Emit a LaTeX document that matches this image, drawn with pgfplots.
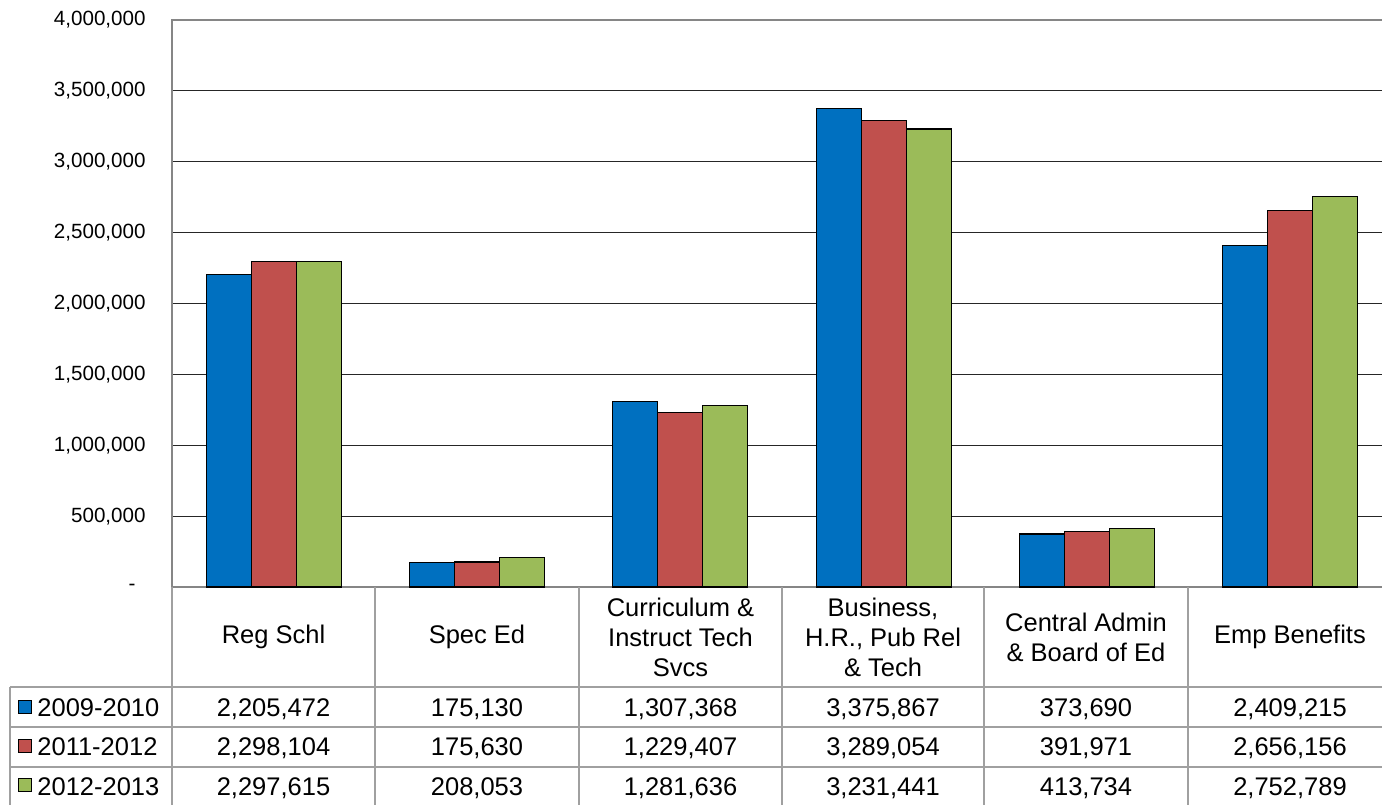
\documentclass[border=0pt]{standalone}
\usepackage{pgfplots}
\pgfplotsset{compat=1.18}
\usepackage{fontspec}
\setmainfont{Liberation Sans}
\definecolor{bBlue}{RGB}{0,112,192}
\definecolor{bRed}{RGB}{192,80,77}
\definecolor{bGreen}{RGB}{155,187,89}
\definecolor{lineGray}{RGB}{134,134,134}
\definecolor{tabGray}{RGB}{160,160,160}

\begin{document}
\begin{tikzpicture}
\begin{axis}[
  at={(0,0)}, anchor=south west, scale only axis,
  width=610pt, height=283.5pt,
  xmin=-0.5, xmax=5.5, ymin=0, ymax=4000000,
  xtick=\empty,
  ytick={0,500000,1000000,1500000,2000000,2500000,3000000,3500000,4000000},
  yticklabels={{-\rule{5pt}{0pt}},{500,000},{1,000,000},{1,500,000},{2,000,000},{2,500,000},{3,000,000},{3,500,000},{4,000,000}},
  scaled y ticks=false,
  major tick length=0pt,
  yticklabel style={font=\fontsize{10.3}{12}\selectfont, inner sep=0pt, xshift=-13pt},
  ymajorgrids, grid style={black!85, line width=0.55pt},
  axis line style={lineGray, line width=0.9pt},
  ybar=0pt, bar width=22.5pt,
]
% 2009-2010
\addplot[fill=bBlue, draw=black, line width=0.65pt] coordinates {
  (0,2205472) (1,175130) (2,1307368) (3,3375867) (4,373690) (5,2409215)};
% 2011-2012
\addplot[fill=bRed, draw=black, line width=0.65pt] coordinates {
  (0,2298104) (1,175630) (2,1229407) (3,3289054) (4,391971) (5,2656156)};
% 2012-2013
\addplot[fill=bGreen, draw=black, line width=0.65pt] coordinates {
  (0,2297615) (1,208053) (2,1281636) (3,3231441) (4,413734) (5,2752789)};
\end{axis}

% data table below the plot, in pixel units
\begin{scope}[x=0.5pt, y=-0.5pt, shift={(-86pt,293.5pt)}]
  \begin{scope}[draw=tabGray, line width=0.8pt]
    \foreach \xx in {172,375,579,782,984,1188,1392} \draw (\xx,587) -- (\xx,820);
    \draw (10,687) -- (10,820);
    \foreach \yy in {687,727,767,807} \draw (10,\yy) -- (1392,\yy);
  \end{scope}
  \tikzset{hd/.style={align=center, font=\fontsize{12.75}{15}\selectfont, inner sep=0pt},
           cell/.style={anchor=base, font=\fontsize{12.75}{15}\selectfont, inner sep=0pt}}
  \node[hd] at (273.5,637) {Reg Schl};
  \node[hd] at (477,637) {Spec Ed};
  \node[hd] at (680.5,637) {Curriculum \&\\Instruct Tech\\Svcs};
  \node[hd] at (883,637) {Business,\\H.R., Pub Rel\\\& Tech};
  \node[hd] at (1086,637) {Central Admin\\\& Board of Ed};
  \node[hd] at (1290,637) {Emp Benefits};
  % legend keys
  \filldraw[fill=bBlue, draw=black, line width=0.5pt] (18.5,700) rectangle (31.5,713);
  \filldraw[fill=bRed, draw=black, line width=0.5pt] (18.5,739.5) rectangle (31.5,752.5);
  \filldraw[fill=bGreen, draw=black, line width=0.5pt] (18.5,778.5) rectangle (31.5,791.5);
  \node[cell, anchor=base west] at (37,716) {2009-2010};
  \node[cell, anchor=base west] at (37,755) {2011-2012};
  \node[cell, anchor=base west] at (37,795) {2012-2013};
  % row 1
  \node[cell] at (273.5,716) {2,205,472};
  \node[cell] at (477,716) {175,130};
  \node[cell] at (680.5,716) {1,307,368};
  \node[cell] at (883,716) {3,375,867};
  \node[cell] at (1086,716) {373,690};
  \node[cell] at (1290,716) {2,409,215};
  % row 2
  \node[cell] at (273.5,755) {2,298,104};
  \node[cell] at (477,755) {175,630};
  \node[cell] at (680.5,755) {1,229,407};
  \node[cell] at (883,755) {3,289,054};
  \node[cell] at (1086,755) {391,971};
  \node[cell] at (1290,755) {2,656,156};
  % row 3
  \node[cell] at (273.5,795) {2,297,615};
  \node[cell] at (477,795) {208,053};
  \node[cell] at (680.5,795) {1,281,636};
  \node[cell] at (883,795) {3,231,441};
  \node[cell] at (1086,795) {413,734};
  \node[cell] at (1290,795) {2,752,789};
  \pgfresetboundingbox
  \path[use as bounding box] (0,0) rectangle (1382,804);
\end{scope}
\end{tikzpicture}
\end{document}
